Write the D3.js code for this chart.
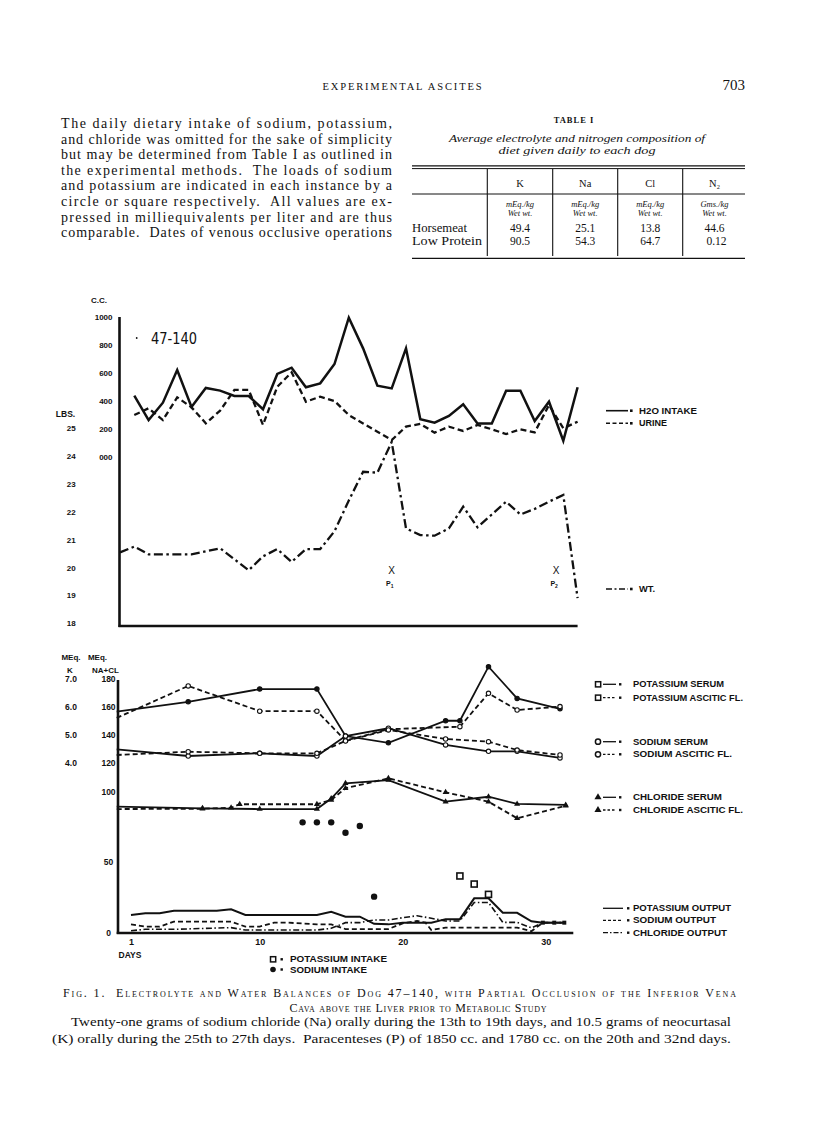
<!DOCTYPE html>
<html><head><meta charset="utf-8">
<script src="https://cdn.jsdelivr.net/npm/d3@7"></script>
<style>
body{margin:0;background:#fff;}
svg{display:block;}
text{white-space:pre;}
</style></head><body>
<svg id="page" width="816" height="1121"></svg>
<script>
// ---------------- DATA ----------------
const headerText = "EXPERIMENTAL ASCITES";
const pageNumber = "703";
const paraLines = [
  "The daily dietary intake of sodium, potassium,",
  "and chloride was omitted for the sake of simplicity",
  "but may be determined from Table I as outlined in",
  "the experimental methods.  The loads of sodium",
  "and potassium are indicated in each instance by a",
  "circle or square respectively.  All values are ex-",
  "pressed in milliequivalents per liter and are thus",
  "comparable.  Dates of venous occlusive operations"
];
const tableTitle = "TABLE I";
const tableCaption = ["Average electrolyte and nitrogen composition of", "diet given daily to each dog"];
const tableCols = ["K", "Na", "Cl", "N\u2082"];
const tableUnits = [["mEq./kg","Wet wt."],["mEq./kg","Wet wt."],["mEq./kg","Wet wt."],["Gms./kg","Wet wt."]];
const tableRows = ["Horsemeat", "Low Protein"];
const tableValues = [["49.4","25.1","13.8","44.6"],["90.5","54.3","64.7","0.12"]];

// top chart
const topDays = [1,2,3,4,5,6,7,8,9,10,11,12,13,14,15,16,17,18,19,20,21,22,23,24,25,26,27,28,29,30,31,32];
const h2oIntake = [438,264,388,621,357,493,474,436,436,341,593,638,498,526,664,995,776,509,490,776,269,245,293,376,240,240,474,474,257,395,116,498];
const urine = [300,348,264,426,355,241,331,479,479,229,502,605,395,431,400,300,240,180,121,217,236,174,217,186,229,198,164,198,176,371,205,252];
const wtDays = [0,1,2,3,4,5,7,9,10,11,12,13,14,15,16,17,18,19,20,21,22,23,24,25,26,27,28,29,30,31,32];
const weight = [20.54,20.75,20.47,20.47,20.47,20.47,20.69,19.9,20.4,20.66,20.2,20.66,20.66,21.3,22.4,23.43,23.4,24.5,21.4,21.16,21.14,21.4,22.18,21.44,21.9,22.36,21.9,22.1,22.36,22.6,18.9];
const ccTickVals = [1000,800,600,400,200,0];
const ccTickLabels = ["1000","800","600","400","200","000"];
const lbTickVals = [25,24,23,22,21,20,19,18];
const paraDays = [19, 30.5];
const paraLabels = ["1", "2"];
const topLegend = ["H2O INTAKE", "URINE", "WT."];
const dogLabel = "47-140";

// bottom chart
const kSerumDays = [0,5,10,14,16,19,23,24,26,28,31];
const kSerum = [5.82,6.17,6.62,6.62,4.96,4.72,5.5,5.5,7.41,6.29,5.92];
const kAscDays = [0,5,10,14,16,19,24,26,28,31];
const kAsc = [5.6,6.73,5.84,5.84,4.8,5.2,5.29,6.47,5.88,6.0];
const naSerumDays = [0,5,10,14,16,19,23,26,28,31];
const naSerum = [129.8,125.1,127,125.1,139.2,144.7,132.9,128.4,128.4,123.7];
const naAscDays = [0,5,10,14,16,19,23,26,28,31];
const naAsc = [125.8,128.1,127,127,135.7,143.5,137.1,135.2,129.3,125.8];
const clSerumDays = [0,6,10,14,15,16,19,23,26,28,31.4];
const clSerum = [89.3,88.1,87.6,87.6,95,105.8,108.1,92.8,96.3,91.2,90.5];
const clAscDays = [0,6,8,8.6,14,15,16,19,23,26,28,31.4];
const clAsc = [87.6,87.8,88.5,91,91,94,102.3,109.3,99.4,92.8,81.1,90];
const naIntakeDays = [13,14,15,16,17,18];
const naIntake = [78.2,78.2,78.2,70.9,75.6,25.7];
const kIntakeDays = [24,25,26];
const kIntake = [40.3,34.6,27.3];
const kOutDays = [1,2,3,4,7,8,9,14,15,16,17,18,19,20,22,23,24,25,26,27,28,29,29.8,30.6,31.3];
const kOut = [12.7,13.9,13.9,15.8,15.8,16.7,12.7,12.7,15,11.5,11.5,6.5,6.1,7.3,7.3,9.8,9.8,24.5,24.5,14.3,14.3,8.3,7.3,7.3,7.3];
const naOutDays = [1,2,3,4,8,9,10,11,12,14,15,16,19,20,21,21.6,22,23,28,29,29.8,31.1];
const naOut = [6.1,4.5,4.5,8,8,4.5,4.5,7.3,7.3,6.1,6.1,2.8,2.8,6.8,8.5,7.3,2.1,3.8,3.8,1.3,7.3,7.3];
const clOutDays = [1,2,4,8,9,14,15,16,17,18,19,20,21,22,23,24,25,26,27,28,29,29.8,31.1];
const clOut = [1.6,2.6,2.6,3.8,2.1,2.1,3.3,7.3,7.3,9.2,9.2,10.8,12.2,10.4,8.5,8.5,21.6,21.6,7.5,7.5,3.6,7.3,7.3];
const kTickVals = [7,6,5,4];
const kTickLabels = ["7.0","6.0","5.0","4.0"];
const meqTickVals = [180,160,140,120,100,50,0];
const dayTickVals = [1,10,20,30];
const botLegend = ["POTASSIUM SERUM","POTASSIUM ASCITIC FL.","SODIUM SERUM","SODIUM ASCITIC FL.","CHLORIDE SERUM","CHLORIDE ASCITIC FL.","POTASSIUM OUTPUT","SODIUM OUTPUT","CHLORIDE OUTPUT"];
const intakeLegend = ["POTASSIUM INTAKE","SODIUM INTAKE"];

const captionLines = [
  "Fig. 1.  Electrolyte and Water Balances of Dog 47\u2013140, with Partial Occlusion of the Inferior Vena",
  "Cava above the Liver prior to Metabolic Study",
  "Twenty-one grams of sodium chloride (Na) orally during the 13th to 19th days, and 10.5 grams of neocurtasal",
  "(K) orally during the 25th to 27th days.  Paracenteses (P) of 1850 cc. and 1780 cc. on the 20th and 32nd days."
];

// ---------------- DRAW ----------------
(function(){
const svg = d3.select('#page');
svg.append('rect').attr('width',816).attr('height',1121).attr('fill','#fff');
const SERIF = "'Liberation Serif', 'DejaVu Serif', serif";
const SANS = "'Liberation Sans', 'DejaVu Sans', sans-serif";
const INK = "#111";

// header
svg.append('text').attr('x',402).attr('y',90).attr('text-anchor','middle')
  .attr('font-family',SERIF).attr('font-size',10.5).attr('fill',INK)
  .attr('textLength',159).attr('lengthAdjust','spacing').text(headerText);
svg.append('text').attr('x',745).attr('y',90).attr('text-anchor','end')
  .attr('font-family',SERIF).attr('font-size',15).attr('fill',INK).text(pageNumber);

// paragraph
svg.append('g').selectAll('text').data(paraLines).join('text')
  .attr('x',61).attr('y',(d,i)=>128+i*15.6)
  .attr('font-family',SERIF).attr('font-size',14).attr('fill',INK)
  .attr('textLength',331).attr('lengthAdjust','spacing').text(d=>d);

// table
const tg = svg.append('g');
tg.append('text').attr('x',574).attr('y',123).attr('text-anchor','middle')
  .attr('font-family',SERIF).attr('font-size',8.5).attr('font-weight','bold').attr('fill',INK)
  .attr('letter-spacing',1).text(tableTitle);
tableCaption.forEach((t,i)=>{
  tg.append('text').attr('x',577).attr('y',142+i*12.2).attr('text-anchor','middle')
    .attr('font-family',SERIF).attr('font-style','italic').attr('font-size',10.5).attr('fill',INK)
    .attr('textLength',i===0?256:157).attr('lengthAdjust','spacingAndGlyphs').text(t);
});
const tx0=412, tx1=745;
tg.append('line').attr('x1',tx0).attr('x2',tx1).attr('y1',165.8).attr('y2',165.8).attr('stroke',INK).attr('stroke-width',1.3);
tg.append('line').attr('x1',tx0).attr('x2',tx1).attr('y1',168.6).attr('y2',168.6).attr('stroke',INK).attr('stroke-width',1);
tg.append('line').attr('x1',tx0).attr('x2',tx1).attr('y1',194).attr('y2',194).attr('stroke',INK).attr('stroke-width',1);
tg.append('line').attr('x1',tx0).attr('x2',tx1).attr('y1',258.3).attr('y2',258.3).attr('stroke',INK).attr('stroke-width',1.2);
const colX = [487.3,552.7,617.7,682.7];
colX.forEach(x=>tg.append('line').attr('x1',x).attr('x2',x).attr('y1',169).attr('y2',256).attr('stroke',INK).attr('stroke-width',1.1));
const colC = [520,585.2,650.2,714.5];
tableCols.forEach((c,i)=>tg.append('text').attr('x',colC[i]).attr('y',187).attr('text-anchor','middle')
  .attr('font-family',SERIF).attr('font-size',10.5).attr('fill',INK).text(c));
tableUnits.forEach((u,i)=>u.forEach((t,j)=>tg.append('text').attr('x',colC[i]).attr('y',206.5+j*9.3).attr('text-anchor','middle')
  .attr('font-family',SERIF).attr('font-style','italic').attr('font-size',8.5).attr('fill',INK).text(t)));
tableRows.forEach((r,i)=>{
  tg.append('text').attr('x',412).attr('y',232+i*13.2).attr('font-family',SERIF).attr('font-size',11.5).attr('fill',INK)
    .attr('textLength',i===0?55:70).attr('lengthAdjust','spacingAndGlyphs').text(r);
  tableValues[i].forEach((v,j)=>tg.append('text').attr('x',colC[j]+(j===3&&i===1?2:0)).attr('y',232+i*13.2).attr('text-anchor','middle')
    .attr('font-family',SERIF).attr('font-size',11.5).attr('fill',INK).text(v));
});

// ---------- TOP CHART ----------
const xTop = d3.scaleLinear().domain([0,32]).range([120,577.6]);
const yCC = d3.scaleLinear().domain([0,1000]).range([457,317]);
const yLB = d3.scaleLinear().domain([18,25]).range([623.3,428]);
const topG = svg.append('g');

const ccAxis = d3.axisLeft(yCC).tickValues(ccTickVals).tickFormat((d,i)=>ccTickLabels[i]).tickSize(0).tickPadding(0);
const gcc = topG.append('g').attr('transform','translate(112.5,0)').call(ccAxis);
gcc.select('.domain').remove();
gcc.selectAll('text').attr('font-family',SANS).attr('font-weight','bold').attr('font-size',8).attr('fill',INK);
const lbAxis = d3.axisLeft(yLB).tickValues(lbTickVals).tickFormat(d3.format('d')).tickSize(0).tickPadding(0);
const glb = topG.append('g').attr('transform','translate(71.3,0)').call(lbAxis);
glb.select('.domain').remove();
glb.selectAll('text').attr('text-anchor','middle').attr('font-family',SANS).attr('font-weight','bold').attr('font-size',8).attr('fill',INK);
topG.append('text').attr('x',65.5).attr('y',417).attr('text-anchor','middle').attr('font-family',SANS).attr('font-weight','bold').attr('font-size',8.5).attr('fill',INK).text('LBS.');
topG.append('text').attr('x',99).attr('y',303).attr('text-anchor','middle').attr('font-family',SANS).attr('font-weight','bold').attr('font-size',8).attr('fill',INK).text('C.C.');
const xAxTop = d3.axisBottom(xTop).tickValues([]).tickSizeOuter(0);
const gxt = topG.append('g').attr('transform','translate(0,626)').call(xAxTop);
gxt.select('.domain').attr('stroke',INK).attr('stroke-width',2.6).attr('d',`M${xTop(0)-1.5},0H${xTop(32)}`);
topG.append('line').attr('x1',119.5).attr('x2',119.5).attr('y1',yCC(1000)).attr('y2',627).attr('stroke',INK).attr('stroke-width',2.6);

const lineTop = (yS)=>d3.line().x(d=>xTop(d[0])).y(d=>yS(d[1]));
topG.append('path').attr('d',lineTop(yCC)(d3.zip(topDays,h2oIntake))).attr('fill','none').attr('stroke',INK).attr('stroke-width',2.5).attr('stroke-linejoin','miter');
topG.append('path').attr('d',lineTop(yCC)(d3.zip(topDays,urine))).attr('fill','none').attr('stroke',INK).attr('stroke-width',2.3).attr('stroke-dasharray','6,3.5');
topG.append('path').attr('d',lineTop(yLB)(d3.zip(wtDays,weight))).attr('fill','none').attr('stroke',INK).attr('stroke-width',2.3).attr('stroke-dasharray','9,3.5,2.5,3.5');

topG.append('text').attr('x',151).attr('y',344).attr('font-family',"'DejaVu Sans', sans-serif").attr('font-size',16).attr('fill',INK)
  .attr('textLength',46).attr('lengthAdjust','spacingAndGlyphs').text(dogLabel);
topG.append('circle').attr('cx',136.7).attr('cy',338).attr('r',0.9).attr('fill',INK);

paraDays.forEach((d,i)=>{
  topG.append('text').attr('x',xTop(d)).attr('y',574).attr('text-anchor','middle').attr('font-family',SANS).attr('font-size',10).attr('fill',INK).text('X');
  const t = topG.append('text').attr('x',xTop(d)-2).attr('y',586).attr('text-anchor','middle').attr('font-family',SANS).attr('font-weight','bold').attr('font-size',7).attr('fill',INK);
  t.append('tspan').text('P');
  t.append('tspan').attr('font-size',5).attr('dy',1.5).text(paraLabels[i]);
});

const tlg = topG.append('g');
const tlY = [410.7,423.3,589];
const tlDash = [null,'4,2.5','6,2.5,2,2.5'];
topLegend.forEach((t,i)=>{
  tlg.append('line').attr('x1',606).attr('x2',628).attr('y1',tlY[i]).attr('y2',tlY[i]).attr('stroke',INK).attr('stroke-width',1.6).attr('stroke-dasharray',tlDash[i]);
  tlg.append('rect').attr('x',630).attr('y',tlY[i]-1.3).attr('width',2.6).attr('height',2.6).attr('fill',INK);
  tlg.append('text').attr('x',639).attr('y',tlY[i]+3).attr('font-family',SANS).attr('font-weight','bold').attr('font-size',8.5).attr('fill',INK)
    .attr('textLength',[58,28,16][i]).attr('lengthAdjust','spacingAndGlyphs').text(t);
});

// ---------- BOTTOM CHART ----------
const xBot = d3.scaleLinear().domain([0,32]).range([116.7,574.3]);
const yM = d3.scaleLinear().domain([0,180]).range([933,678.3]);
const yK = d3.scaleLinear().domain([4,7]).range([yM(120),yM(180)]);
const botG = svg.append('g');

const mAxis = d3.axisLeft(yM).tickValues(meqTickVals).tickFormat(d3.format('d')).tickSize(0).tickPadding(0);
const gm = botG.append('g').attr('transform','translate(108.5,0)').call(mAxis);
gm.select('.domain').remove();
gm.selectAll('text').attr('text-anchor','middle').attr('font-family',SANS).attr('font-weight','bold').attr('font-size',8.5).attr('fill',INK);
const kAxis = d3.axisLeft(yK).tickValues(kTickVals).tickFormat((d,i)=>kTickLabels[i]).tickSize(0).tickPadding(0);
const gk = botG.append('g').attr('transform','translate(71,0)').call(kAxis);
gk.select('.domain').remove();
gk.selectAll('text').attr('text-anchor','middle').attr('font-family',SANS).attr('font-weight','bold').attr('font-size',8.5).attr('fill',INK);
[['MEq.',71,660],['MEq.',97.5,660],['K',70,672.5],['NA+CL',105.5,672.5]].forEach(a=>
  botG.append('text').attr('x',a[1]).attr('y',a[2]).attr('text-anchor','middle').attr('font-family',SANS).attr('font-weight','bold').attr('font-size',8).attr('fill',INK).text(a[0]));

const dAxis = d3.axisBottom(xBot).tickValues(dayTickVals).tickFormat(d3.format('d')).tickSize(0).tickPadding(6).tickSizeOuter(0);
const gd = botG.append('g').attr('transform','translate(0,933)').call(dAxis);
gd.select('.domain').attr('stroke',INK).attr('stroke-width',2.6).attr('d',`M${xBot(0)},0H${xBot(32)-1}`);
gd.selectAll('text').attr('font-family',SANS).attr('font-weight','bold').attr('font-size',9).attr('fill',INK);
botG.append('text').attr('x',130).attr('y',957.5).attr('text-anchor','middle').attr('font-family',SANS).attr('font-weight','bold').attr('font-size',8.5).attr('fill',INK).text('DAYS');
botG.append('line').attr('x1',118).attr('x2',118).attr('y1',680).attr('y2',934).attr('stroke',INK).attr('stroke-width',2.6);

const lineB = (yS)=>d3.line().x(d=>xBot(d[0])).y(d=>yS(d[1]));
function series(days, vals, yS, dash, w){
  botG.append('path').attr('d',lineB(yS)(d3.zip(days,vals))).attr('fill','none').attr('stroke',INK)
    .attr('stroke-width',w||1.8).attr('stroke-dasharray',dash);
}
series(kSerumDays,kSerum,yK,null);
series(kAscDays,kAsc,yK,'5,3');
series(naSerumDays,naSerum,yM,null);
series(naAscDays,naAsc,yM,'5,3');
series(clSerumDays,clSerum,yM,null);
series(clAscDays,clAsc,yM,'5,3');
series(kOutDays,kOut,yM,null,2);
series(naOutDays,naOut,yM,'5,3',1.8);
series(clOutDays,clOut,yM,'6,2.5,1.5,2.5',1.6);

function dots(days, vals, yS, filled, r){
  botG.append('g').selectAll('circle').data(d3.zip(days,vals).slice(1)).join('circle')
    .attr('cx',d=>xBot(d[0])).attr('cy',d=>yS(d[1])).attr('r',r||2.2)
    .attr('fill',filled?INK:'#fff').attr('stroke',INK).attr('stroke-width',1.1);
}
dots(kSerumDays,kSerum,yK,true);
dots(kAscDays,kAsc,yK,false);
dots(naSerumDays,naSerum,yM,false);
dots(naAscDays,naAsc,yM,false);
const tri = d3.symbol().type(d3.symbolTriangle).size(16);
function tris(days, vals){
  botG.append('g').selectAll('path').data(d3.zip(days,vals).slice(1)).join('path')
    .attr('d',tri).attr('transform',d=>`translate(${xBot(d[0])},${yM(d[1])})`).attr('fill',INK);
}
tris(clSerumDays,clSerum);
tris(clAscDays,clAsc);
botG.append('g').selectAll('circle').data(d3.zip(naIntakeDays,naIntake)).join('circle')
  .attr('cx',d=>xBot(d[0])).attr('cy',d=>yM(d[1])).attr('r',3.2).attr('fill',INK);
botG.append('g').selectAll('rect').data(d3.zip(kIntakeDays,kIntake)).join('rect')
  .attr('x',d=>xBot(d[0])-3).attr('y',d=>yM(d[1])-3).attr('width',6).attr('height',6)
  .attr('fill','#fff').attr('stroke',INK).attr('stroke-width',1.6);
botG.append('g').selectAll('rect').data(d3.zip(kOutDays,kOut).slice(-3)).join('rect')
  .attr('x',d=>xBot(d[0])-2).attr('y',d=>yM(d[1])-2).attr('width',4).attr('height',4).attr('fill',INK);

const blg = botG.append('g');
const blY = [684.3,697.7,741.7,754.3,797.3,810,908.3,920.3,932.7];
const blW = [91,110,75,99,89,110,98,83,94];
botLegend.forEach((t,i)=>{
  const y = blY[i];
  const grp = Math.floor(i/2);
  if(i<6){
    const sym = grp===0?'sq':grp===1?'ci':'tr';
    if(sym==='sq') blg.append('rect').attr('x',595.5).attr('y',y-2.6).attr('width',5.2).attr('height',5.2).attr('fill','#fff').attr('stroke',INK).attr('stroke-width',1.5);
    if(sym==='ci') blg.append('circle').attr('cx',598).attr('cy',y).attr('r',2.6).attr('fill','#fff').attr('stroke',INK).attr('stroke-width',1.5);
    if(sym==='tr') blg.append('path').attr('d',d3.symbol().type(d3.symbolTriangle).size(22)()).attr('transform',`translate(598,${y})`).attr('fill',INK);
    blg.append('line').attr('x1',603).attr('x2',616).attr('y1',y).attr('y2',y).attr('stroke',INK).attr('stroke-width',1.3).attr('stroke-dasharray',i%2?'2.5,2':null);
    blg.append('rect').attr('x',619).attr('y',y-1.2).attr('width',2.4).attr('height',2.4).attr('fill',INK);
  } else {
    const k=i-6;
    blg.append('line').attr('x1',603).attr('x2',623).attr('y1',y).attr('y2',y).attr('stroke',INK).attr('stroke-width',1.3).attr('stroke-dasharray',[null,'3,2','5,2,1.5,2'][k]);
    blg.append('rect').attr('x',627).attr('y',y-1.2).attr('width',2.4).attr('height',2.4).attr('fill',INK);
  }
  blg.append('text').attr('x',633).attr('y',y+3).attr('font-family',SANS).attr('font-weight','bold').attr('font-size',8.5).attr('fill',INK)
    .attr('textLength',blW[i]).attr('lengthAdjust','spacingAndGlyphs').text(t);
});
const ilY=[959.3,969.5];
ilY.forEach((y,i)=>{
  if(i===0) blg.append('rect').attr('x',270.5).attr('y',y-2.6).attr('width',5.2).attr('height',5.2).attr('fill','#fff').attr('stroke',INK).attr('stroke-width',1.5);
  else blg.append('circle').attr('cx',273).attr('cy',y).attr('r',2.8).attr('fill',INK);
  blg.append('rect').attr('x',280.5).attr('y',y-1.2).attr('width',2.4).attr('height',2.4).attr('fill',INK);
  blg.append('text').attr('x',290).attr('y',y+3).attr('font-family',SANS).attr('font-weight','bold').attr('font-size',8.5).attr('fill',INK)
    .attr('textLength',[97,77][i]).attr('lengthAdjust','spacingAndGlyphs').text(intakeLegend[i]);
});

// caption
const cg = svg.append('g');
cg.append('text').attr('x',63).attr('y',997).attr('font-family',SERIF).attr('font-size',12).attr('fill',INK)
  .style('font-variant','small-caps').attr('textLength',673).attr('lengthAdjust','spacing').text(captionLines[0]);
cg.append('text').attr('x',418).attr('y',1012).attr('text-anchor','middle').attr('font-family',SERIF).attr('font-size',12).attr('fill',INK)
  .style('font-variant','small-caps').attr('textLength',257).attr('lengthAdjust','spacing').text(captionLines[1]);
cg.append('text').attr('x',71).attr('y',1026).attr('font-family',SERIF).attr('font-size',13).attr('fill',INK)
  .attr('textLength',660).attr('lengthAdjust','spacingAndGlyphs').text(captionLines[2]);
cg.append('text').attr('x',52).attr('y',1043).attr('font-family',SERIF).attr('font-size',13).attr('fill',INK)
  .attr('textLength',679).attr('lengthAdjust','spacingAndGlyphs').text(captionLines[3]);
})();
</script>
</body></html>
